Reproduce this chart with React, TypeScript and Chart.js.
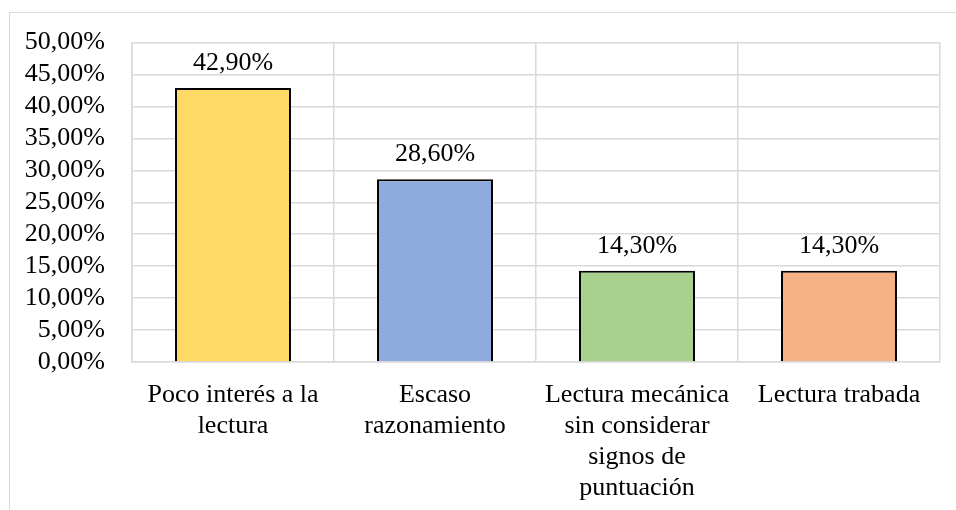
import React, { useEffect, useRef } from "react";
import { Chart, registerables } from "chart.js";

Chart.register(...registerables);

const categories: string[][] = [
  ["Poco interés a la", "lectura"],
  ["Escaso", "razonamiento"],
  ["Lectura mecánica", "sin considerar", "signos de", "puntuación"],
  ["Lectura trabada"],
];
const values: number[] = [42.9, 28.6, 14.3, 14.3];
const barColors: string[] = ["#FFD966", "#8FAADC", "#A9D18E", "#F4B183"];
const yMin = 0;
const yMax = 50;
const yStep = 5;

const FONT = "'Liberation Serif', 'Times New Roman', serif";
const FONT_SIZE = 26;

const fmt = (v: number) => v.toFixed(2).replace(".", ",") + "%";

const labelPlugin = {
  id: "barValueLabels",
  afterDatasetsDraw(chart: any) {
    const ctx = chart.ctx;
    const meta = chart.getDatasetMeta(0);
    ctx.save();
    ctx.font = `${FONT_SIZE}px ${FONT}`;
    ctx.fillStyle = "#000000";
    ctx.textAlign = "center";
    ctx.textBaseline = "alphabetic";
    meta.data.forEach((el: any, i: number) => {
      ctx.fillText(fmt(values[i]), el.x, el.y - 18);
    });
    ctx.restore();
  },
};

export default function App() {
  const ref = useRef<HTMLCanvasElement | null>(null);
  useEffect(() => {
    if (!ref.current) return;
    const chart = new Chart(ref.current, {
      type: "bar",
      data: {
        labels: categories,
        datasets: [
          {
            data: values,
            backgroundColor: barColors,
            borderColor: "#000000",
            borderWidth: 2,
            barPercentage: 0.574,
            categoryPercentage: 1,
          },
        ],
      },
      options: {
        animation: false,
        responsive: false,
        maintainAspectRatio: false,
        layout: { padding: { left: 0, top: 42, right: 16, bottom: 0 } },
        plugins: {
          legend: { display: false },
          tooltip: { enabled: false },
        },
        scales: {
          x: {
            afterFit: (s: any) => {
              s.height = 148;
            },
            grid: {
              color: "#d9d9d9",
              lineWidth: 1.5,
              drawTicks: false,
              offset: true,
            },
            border: { color: "#d9d9d9", width: 1.5 },
            ticks: {
              color: "#000000",
              font: { family: FONT, size: FONT_SIZE, lineHeight: 1.19 },
              padding: 18,
              maxRotation: 0,
              autoSkip: false,
            },
          },
          y: {
            min: yMin,
            max: yMax,
            afterFit: (s: any) => {
              s.width = 132;
            },
            grid: { color: "#d9d9d9", lineWidth: 1.5, drawTicks: false },
            border: { color: "#d9d9d9", width: 1.5 },
            ticks: {
              stepSize: yStep,
              autoSkip: false,
              color: "#000000",
              font: { family: FONT, size: FONT_SIZE },
              padding: 27,
              callback: (v: any) => fmt(Number(v)),
            },
          },
        },
      },
      plugins: [labelPlugin],
    });
    return () => chart.destroy();
  }, []);

  return (
    <div
      style={{
        position: "fixed",
        left: 0,
        top: 0,
        width: 956,
        height: 510,
        background: "#ffffff",
        overflow: "hidden",
      }}
    >
      <div
        style={{
          position: "absolute",
          left: 9,
          top: 12,
          width: 1000,
          height: 600,
          borderTop: "1.5px solid #d9d9d9",
          borderLeft: "1.5px solid #d9d9d9",
        }}
      />
      <canvas
        ref={ref}
        width={956}
        height={510}
        style={{ position: "absolute", left: 0, top: 0, width: 956, height: 510 }}
      />
    </div>
  );
}
